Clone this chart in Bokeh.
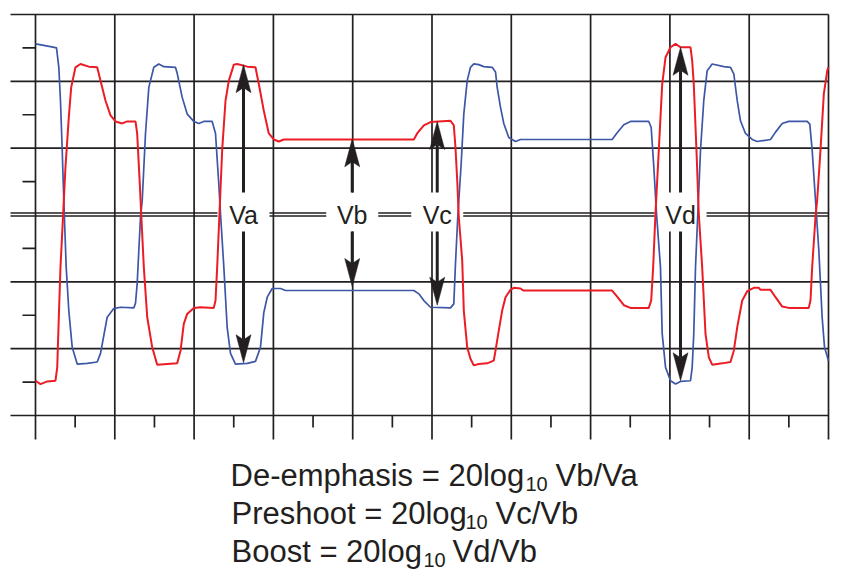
from bokeh.plotting import figure
from bokeh.models import Range1d
from bokeh.core.properties import value
from bokeh.embed import file_html
from bokeh.resources import INLINE

# ---------------- data (grid divisions: time across, voltage up) ----------------
blue_t = [0.000, 0.189, 0.265, 0.294, 0.315, 0.337, 0.357, 0.387, 0.420, 0.463,
          0.526, 0.652, 0.778, 0.820, 0.904, 0.987, 1.072, 1.240, 1.261, 1.282,
          1.303, 1.324, 1.346, 1.387, 1.429, 1.492, 1.555, 1.618, 1.765, 1.787,
          1.850, 1.913, 1.996, 2.059, 2.122, 2.228, 2.270, 2.311, 2.333, 2.375,
          2.417, 2.459, 2.522, 2.670, 2.774, 2.837, 2.879, 2.922, 2.985, 3.090,
          3.153, 4.771, 4.834, 4.897, 4.981, 5.233, 5.275, 5.296, 5.325, 5.368,
          5.401, 5.444, 5.485, 5.527, 5.590, 5.653, 5.759, 5.801, 5.822, 5.864,
          5.905, 5.968, 6.053, 6.116, 7.272, 7.335, 7.419, 7.503, 7.734, 7.764,
          7.797, 7.831, 7.881, 7.903, 7.945, 8.008, 8.071, 8.134, 8.260, 8.281,
          8.301, 8.323, 8.352, 8.386, 8.427, 8.470, 8.533, 8.680, 8.764, 8.806,
          8.849, 8.890, 8.953, 9.038, 9.101, 9.269, 9.332, 9.416, 9.499, 9.731,
          9.764, 9.794, 9.836, 9.878, 9.920, 9.950, 10.000]
blue_v = [2.56, 2.52, 2.50, 2.21, 1.71, 0.97, 0.22, -0.78, -1.43, -1.98,
          -2.23, -2.22, -2.20, -2.07, -1.53, -1.40, -1.38, -1.39, -1.32, -1.03,
          -0.53, -0.03, 0.22, 1.22, 1.91, 2.21, 2.26, 2.22, 2.21, 2.12,
          1.76, 1.51, 1.40, 1.37, 1.40, 1.40, 1.22, 0.47, 0.02, -0.78,
          -1.68, -2.07, -2.23, -2.22, -2.19, -1.98, -1.46, -1.23, -1.10, -1.10,
          -1.13, -1.13, -1.18, -1.28, -1.38, -1.39, -1.33, -0.73, -0.03, 0.77,
          1.51, 2.01, 2.21, 2.26, 2.25, 2.22, 2.21, 2.14, 1.91, 1.61,
          1.37, 1.16, 1.10, 1.13, 1.13, 1.23, 1.35, 1.40, 1.40, 1.31,
          0.72, 0.02, -0.78, -1.78, -2.28, -2.48, -2.53, -2.49, -2.48, -2.28,
          -1.78, -0.78, 0.02, 0.97, 1.71, 2.16, 2.26, 2.22, 2.21, 2.11,
          1.71, 1.41, 1.22, 1.13, 1.10, 1.13, 1.24, 1.37, 1.40, 1.40,
          1.36, 0.97, 0.22, -0.53, -1.53, -1.98, -2.18]

red_t = [0.000, 0.063, 0.148, 0.252, 0.274, 0.294, 0.315, 0.349, 0.378, 0.420,
         0.450, 0.504, 0.567, 0.672, 0.778, 0.820, 0.883, 0.946, 1.009, 1.093,
         1.156, 1.261, 1.282, 1.315, 1.333, 1.366, 1.409, 1.472, 1.535, 1.661,
         1.787, 1.829, 1.870, 1.913, 1.996, 2.081, 2.248, 2.270, 2.291, 2.320,
         2.354, 2.396, 2.438, 2.501, 2.544, 2.670, 2.774, 2.816, 2.879, 2.942,
         3.005, 3.068, 3.131, 4.771, 4.813, 4.897, 4.981, 5.233, 5.275, 5.296,
         5.318, 5.338, 5.381, 5.401, 5.444, 5.485, 5.527, 5.590, 5.696, 5.779,
         5.801, 5.842, 5.885, 5.927, 5.990, 6.032, 6.116, 6.150, 7.272, 7.335,
         7.419, 7.503, 7.734, 7.764, 7.789, 7.818, 7.860, 7.903, 7.945, 8.008,
         8.071, 8.134, 8.260, 8.281, 8.301, 8.335, 8.364, 8.407, 8.449, 8.491,
         8.533, 8.659, 8.764, 8.806, 8.849, 8.912, 8.975, 9.058, 9.122, 9.142,
         9.269, 9.332, 9.416, 9.499, 9.751, 9.773, 9.794, 9.836, 9.857, 9.899,
         9.941, 9.984, 10.000]
red_v = [-2.48, -2.53, -2.49, -2.48, -2.28, -1.53, -0.78, 0.02, 0.72, 1.46,
         1.91, 2.21, 2.26, 2.22, 2.21, 2.01, 1.71, 1.49, 1.40, 1.37,
         1.40, 1.40, 1.22, 0.47, 0.02, -0.78, -1.53, -1.98, -2.24, -2.23,
         -2.22, -2.03, -1.63, -1.48, -1.39, -1.38, -1.39, -1.28, -0.78, 0.02,
         0.97, 1.71, 2.01, 2.25, 2.26, 2.22, 2.21, 1.96, 1.56, 1.22,
         1.13, 1.10, 1.13, 1.13, 1.22, 1.34, 1.39, 1.41, 1.34, 1.01,
         0.52, -0.03, -0.68, -1.43, -1.98, -2.15, -2.25, -2.23, -2.22, -2.18,
         -2.03, -1.73, -1.43, -1.23, -1.12, -1.09, -1.10, -1.13, -1.13, -1.22,
         -1.35, -1.39, -1.39, -1.28, -0.78, 0.02, 0.97, 1.96, 2.36, 2.51,
         2.56, 2.51, 2.51, 2.31, 1.96, 0.97, 0.02, -0.78, -1.78, -2.13,
         -2.24, -2.22, -2.20, -2.03, -1.68, -1.28, -1.14, -1.09, -1.09, -1.12,
         -1.12, -1.23, -1.37, -1.39, -1.39, -1.28, -0.78, -0.03, 0.22, 0.97,
         1.81, 2.16, 2.21]

x_major = [0, 1, 2, 3, 4, 5, 6, 7, 8, 9, 10]
x_minor = [0.5, 1.5, 2.5, 3.5, 4.5, 5.5, 6.5, 7.5, 8.5, 9.5]
y_major = [-3, -2, -1, 1, 2, 3]
y_minor = [-2.5, -1.5, -0.5, 0.5, 1.5, 2.5]

labels = ["Va", "Vb", "Vc", "Vd"]
label_t = [2.623, 3.994, 5.066, 8.134]
tip_up = [2.25, 1.14, 1.40, 2.51]
tip_down = [-2.21, -1.07, -1.35, -2.48]

formula_main = ["De-emphasis = 20log", "Preshoot = 20log", "Boost = 20log"]
formula_sub = ["10", "10", "10"]
formula_ratio = ["Vb/Va", "Vc/Vb", "Vd/Vb"]

# ---------------- layout / style ----------------
W, H = 844, 579
PX_X = 79.3     # pixels per horizontal division
PX_Y = 66.83    # pixels per vertical division
X0, Y0 = 35.0, 214.5   # canvas pixel of (0, 0)

def dx(px):   # horizontal pixel distance -> data
    return px / PX_X

def dy(px):   # vertical pixel distance -> data
    return px / PX_Y

def cx(px):   # canvas x pixel -> data
    return (px - X0) / PX_X

def cy(py):   # canvas y pixel -> data
    return (Y0 - py) / PX_Y

INK = "#231f20"
RED = "#ec1c24"
BLUE = "#3d57a7"
FONT = value("Liberation Sans")

p = figure(width=W, height=H, output_backend="svg", toolbar_location=None,
           x_axis_type=None, y_axis_type=None,
           x_range=Range1d(cx(0), cx(W)), y_range=Range1d(cy(H), cy(0)),
           min_border=0)
p.outline_line_color = None
p.background_fill_color = "white"
p.border_fill_color = "white"

top, bottom = max(y_major), min(y_major)
left, right = min(x_major), max(x_major)

# grid
p.segment(x0=x_major, y0=[top] * len(x_major), x1=x_major,
          y1=[bottom - dy(24)] * len(x_major), line_color=INK, line_width=1.7)
p.segment(x0=[left - dx(25)] * len(y_major), y0=y_major, x1=[right] * len(y_major),
          y1=y_major, line_color=INK, line_width=1.7)
p.segment(x0=[left - dx(25)] * 2, y0=[dy(2.0), dy(-1.0)], x1=[right] * 2,
          y1=[dy(2.0), dy(-1.0)], line_color=INK, line_width=1.4)
p.segment(x0=[left - dx(13)] * len(y_minor), y0=y_minor, x1=[left] * len(y_minor),
          y1=y_minor, line_color=INK, line_width=1.7)
p.segment(x0=x_minor, y0=[bottom] * len(x_minor), x1=x_minor,
          y1=[bottom - dy(12)] * len(x_minor), line_color=INK, line_width=1.7)

# label boxes (white, hide grid behind labels)
bw = dx(26)
p.quad(left=[t - bw for t in label_t], right=[t + bw for t in label_t],
       top=[dy(22.5)] * 4, bottom=[dy(-16.5)] * 4,
       fill_color="white", line_color=None)

# waveforms
p.line(blue_t, blue_v, line_color=BLUE, line_width=1.7)
p.line(red_t, red_v, line_color=RED, line_width=2.0)

# arrows
hl, hw, notch = dy(28), dx(7.5), dy(5)
p.segment(x0=label_t, y0=[dy(22.5)] * 4, x1=label_t,
          y1=[v - hl + notch for v in tip_up], line_color=INK, line_width=3)
p.segment(x0=label_t, y0=[dy(-16.5)] * 4, x1=label_t,
          y1=[v + hl - notch for v in tip_down], line_color=INK, line_width=3)
xs, ys = [], []
for t, u, d in zip(label_t, tip_up, tip_down):
    xs.append([t, t - hw, t, t + hw]); ys.append([u, u - hl, u - hl + notch, u - hl])
    xs.append([t, t - hw, t, t + hw]); ys.append([d, d + hl, d + hl - notch, d + hl])
p.patches(xs, ys, fill_color=INK, line_color=INK, line_width=0.5)

p.text(x=label_t, y=[dy(0.5)] * 4, text=labels, text_align="center",
       text_baseline="alphabetic", text_font=FONT, text_font_size="25px",
       text_color=INK)

# formulas
base_py = [475, 513, 551]
main_px = [230, 231, 231]
sub_px = [525, 465, 423]
ratio_px = [555, 495, 452]
p.text(x=[cx(v) for v in main_px], y=[cy(v) for v in base_py], text=formula_main,
       text_align="left", text_baseline="alphabetic", text_font=FONT,
       text_font_size="31px", text_color=INK)
p.text(x=[cx(v) for v in sub_px], y=[cy(v + 8) for v in base_py], text=formula_sub,
       text_align="left", text_baseline="alphabetic", text_font=FONT,
       text_font_size="20px", text_color=INK)
p.text(x=[cx(v) for v in ratio_px], y=[cy(v) for v in base_py], text=formula_ratio,
       text_align="left", text_baseline="alphabetic", text_font=FONT,
       text_font_size="31px", text_color=INK)

open("out.html", "w").write(file_html(p, INLINE))
